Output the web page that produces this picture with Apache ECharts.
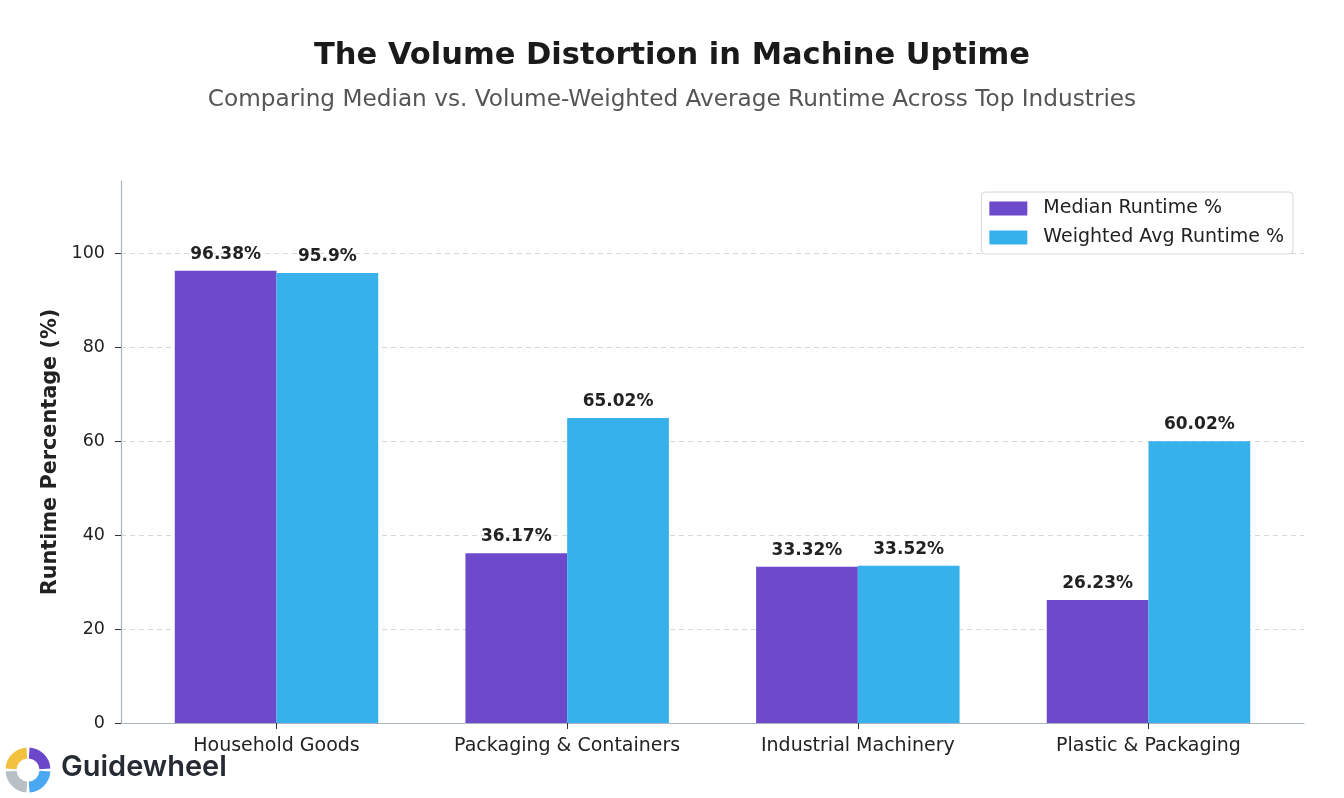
<!DOCTYPE html>
<html>
<head>
<meta charset="utf-8">
<script src="https://cdn.jsdelivr.net/npm/echarts@6/dist/echarts.min.js"></script>
<style>
html,body{margin:0;padding:0;background:#fff;}
#chart{width:1344px;height:798px;}
</style>
</head>
<body>
<div id="chart"></div>
<script>
const categories = ['Household Goods', 'Packaging & Containers', 'Industrial Machinery', 'Plastic & Packaging'];
const medianRuntime = [96.38, 36.17, 33.32, 26.23];
const weightedRuntime = [95.9, 65.02, 33.52, 60.02];
const yTicks = [0, 20, 40, 60, 80, 100];
const seriesNames = ['Median Runtime %', 'Weighted Avg Runtime %'];

const FONT = 'DejaVu Sans';
const chart = echarts.init(document.getElementById('chart'), null, {renderer: 'canvas'});

const labelCfg = {
  show: true,
  position: 'top',
  distance: 8,
  fontFamily: FONT,
  fontSize: 17,
  fontWeight: 'bold',
  color: '#222',
  formatter: p => p.value[1] + '%'
};

const option = {
  backgroundColor: '#fff',
  animation: false,
  title: [
    {
      text: 'The Volume Distortion in Machine Uptime',
      left: 'center',
      top: 36,
      textStyle: {fontFamily: FONT, fontSize: 30.5, fontWeight: 'bold', color: '#1a1a1a'}
    },
    {
      text: 'Comparing Median vs. Volume-Weighted Average Runtime Across Top Industries',
      left: 'center',
      top: 83,
      textStyle: {fontFamily: FONT, fontSize: 23.2, fontWeight: 'normal', color: '#555'}
    }
  ],
  legend: {
    orient: 'vertical',
    right: 51,
    top: 192,
    padding: [7, 9, 7, 8],
    itemWidth: 38,
    itemHeight: 14,
    itemGap: 10,
    icon: 'rect',
    borderColor: '#d6d6d6',
    borderWidth: 1,
    borderRadius: 4,
    backgroundColor: '#fff',
    textStyle: {fontFamily: FONT, fontSize: 19, color: '#222', padding: [0, 0, 0, 11]},
    data: seriesNames
  },
  grid: {left: 121, right: 40, top: 181, bottom: 75, containLabel: false},
  xAxis: {
    type: 'value',
    min: -0.535,
    max: 3.535,
    axisLine: {show: true, onZero: false, lineStyle: {color: '#aab4bd', width: 1.2}},
    axisTick: {show: true, customValues: [0, 1, 2, 3], length: 6, lineStyle: {color: '#333'}},
    axisLabel: {
      customValues: [0, 1, 2, 3],
      formatter: v => categories[Math.round(v)],
      fontFamily: FONT, fontSize: 19, color: '#222', margin: 14
    },
    splitLine: {show: false}
  },
  yAxis: {
    type: 'value',
    min: 0,
    max: 115.5,
    name: 'Runtime Percentage (%)',
    nameLocation: 'middle',
    nameGap: 60,
    nameTextStyle: {fontFamily: FONT, fontSize: 20.8, fontWeight: 'bold', color: '#222'},
    axisLine: {show: true, onZero: false, lineStyle: {color: '#aab4bd', width: 1.2}},
    axisTick: {show: true, customValues: yTicks, length: 6, lineStyle: {color: '#333'}},
    axisLabel: {customValues: yTicks, fontFamily: FONT, fontSize: 17.5, color: '#222', margin: 16},
    splitLine: {show: true, lineStyle: {color: '#d3d8dd', type: [5, 4], width: 1}}
  },
  series: [
    {
      name: seriesNames[0],
      type: 'bar',
      barWidth: '35%',
      barGap: '0%',
      itemStyle: {color: '#6d49cc'},
      label: labelCfg,
      data: categories.map((c, i) => [i, medianRuntime[i]])
    },
    {
      name: seriesNames[1],
      type: 'bar',
      barWidth: '35%',
      barGap: '0%',
      itemStyle: {color: '#36b1eb'},
      label: labelCfg,
      data: categories.map((c, i) => [i, weightedRuntime[i]])
    }
  ],
  graphic: [
    {type: 'sector', shape: {cx: 28, cy: 770, r: 22.5, r0: 11.5, startAngle: Math.PI + 0.07, endAngle: Math.PI * 1.5 - 0.07}, style: {fill: '#f2c23e'}},
    {type: 'sector', shape: {cx: 28, cy: 770, r: 22.5, r0: 11.5, startAngle: Math.PI * 1.5 + 0.07, endAngle: Math.PI * 2 - 0.07}, style: {fill: '#6b47c9'}},
    {type: 'sector', shape: {cx: 28, cy: 770, r: 22.5, r0: 11.5, startAngle: 0.07, endAngle: Math.PI * 0.5 - 0.07}, style: {fill: '#4aa8f2'}},
    {type: 'sector', shape: {cx: 28, cy: 770, r: 22.5, r0: 11.5, startAngle: Math.PI * 0.5 + 0.07, endAngle: Math.PI - 0.07}, style: {fill: '#b8c0c6'}},
    {type: 'text', left: 61, top: 753, style: {text: 'Guidewheel', fontFamily: 'Inter', fontSize: 29, fontWeight: 600, fill: '#262b33'}}
  ]
};
chart.setOption(option);
</script>
</body>
</html>
